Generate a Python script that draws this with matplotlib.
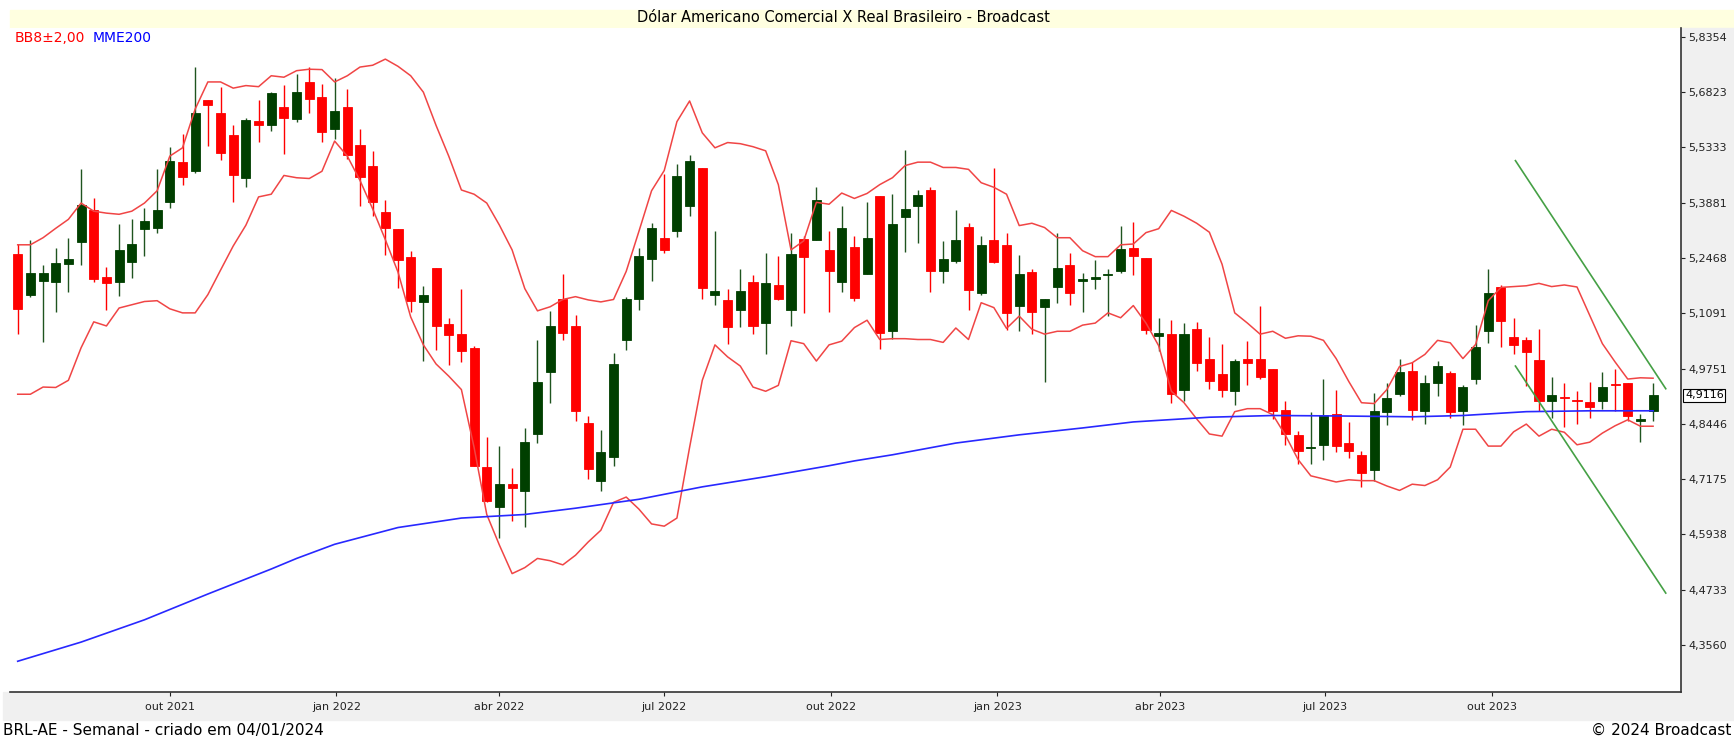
import pandas as pd
import matplotlib
matplotlib.use("Agg")
import matplotlib.pyplot as plt
import matplotlib.dates as mdates
import matplotlib.transforms as mtransforms
from matplotlib.patches import Rectangle
from matplotlib.ticker import FixedLocator, NullLocator

# weekly candles BRL-AE (one per week)
weeks = pd.date_range("2021-07-09", periods=130, freq="7D")

opens = [5.257, 5.153, 5.190, 5.187, 5.232, 5.288, 5.368, 5.199, 5.187, 5.236,
         5.319, 5.322, 5.389, 5.494, 5.470, 5.660, 5.625, 5.565, 5.451, 5.603,
         5.594, 5.641, 5.608, 5.710, 5.669, 5.582, 5.641, 5.539, 5.483, 5.364,
         5.319, 5.250, 5.138, 5.221, 5.083, 5.058, 5.024, 4.744, 4.654, 4.707,
         4.690, 4.822, 4.966, 5.143, 5.077, 4.846, 4.714, 4.767, 5.043, 5.143,
         5.245, 5.298, 5.316, 5.379, 5.478, 5.153, 5.142, 5.118, 5.186, 5.084,
         5.180, 5.118, 5.296, 5.293, 5.266, 5.187, 5.275, 5.207, 5.405, 5.065,
         5.350, 5.379, 5.421, 5.214, 5.239, 5.325, 5.158, 5.292, 5.280, 5.128,
         5.212, 5.124, 5.173, 5.228, 5.188, 5.194, 5.203, 5.213, 5.272, 5.247,
         5.054, 5.058, 4.925, 5.070, 4.998, 4.962, 4.922, 4.998, 4.998, 4.974,
         4.878, 4.819, 4.788, 4.796, 4.868, 4.800, 4.773, 4.739, 4.873, 4.915,
         4.969, 4.874, 4.940, 4.965, 4.874, 4.950, 5.066, 5.174, 5.051, 5.045,
         4.996, 4.897, 4.907, 4.901, 4.896, 4.897, 4.938, 4.940, 4.852, 4.874]

highs = [5.283, 5.291, 5.228, 5.272, 5.298, 5.475, 5.400, 5.224, 5.332, 5.345,
         5.374, 5.475, 5.535, 5.570, 5.751, 5.661, 5.697, 5.594, 5.611, 5.661,
         5.682, 5.701, 5.732, 5.752, 5.704, 5.721, 5.691, 5.581, 5.523, 5.394,
         5.320, 5.264, 5.177, 5.221, 5.098, 5.168, 5.030, 4.815, 4.794, 4.742,
         4.836, 5.043, 5.114, 5.206, 5.105, 4.864, 4.831, 5.012, 5.150, 5.272,
         5.335, 5.462, 5.488, 5.513, 5.478, 5.316, 5.168, 5.219, 5.203, 5.259,
         5.252, 5.309, 5.303, 5.428, 5.314, 5.379, 5.303, 5.390, 5.405, 5.411,
         5.526, 5.421, 5.428, 5.290, 5.368, 5.335, 5.302, 5.478, 5.309, 5.254,
         5.219, 5.145, 5.309, 5.259, 5.209, 5.242, 5.219, 5.327, 5.339, 5.247,
         5.098, 5.092, 5.086, 5.087, 5.050, 5.035, 4.998, 5.042, 5.127, 4.974,
         4.899, 4.828, 4.872, 4.950, 4.923, 4.848, 4.781, 4.917, 4.940, 4.999,
         4.991, 4.960, 4.994, 4.970, 4.935, 5.080, 5.219, 5.180, 5.098, 5.050,
         5.070, 4.954, 4.940, 4.921, 4.944, 4.966, 4.975, 4.940, 4.868, 4.940]

lows = [5.058, 5.150, 5.040, 5.112, 5.162, 5.229, 5.187, 5.118, 5.152, 5.197,
        5.252, 5.311, 5.374, 5.433, 5.466, 5.536, 5.501, 5.389, 5.428, 5.548,
        5.578, 5.516, 5.601, 5.625, 5.547, 5.556, 5.502, 5.379, 5.354, 5.254,
        5.172, 5.112, 4.993, 5.019, 4.984, 4.991, 4.748, 4.665, 4.586, 4.624,
        4.610, 4.801, 4.893, 5.045, 4.851, 4.717, 4.690, 4.748, 5.019, 5.118,
        5.188, 5.260, 5.300, 5.353, 5.143, 5.130, 5.035, 5.075, 5.058, 5.010,
        5.142, 5.078, 5.110, 5.293, 5.112, 5.162, 5.140, 5.207, 5.021, 5.047,
        5.262, 5.285, 5.162, 5.183, 5.233, 5.118, 5.155, 5.234, 5.068, 5.065,
        5.058, 4.942, 5.134, 5.130, 5.112, 5.168, 5.103, 5.209, 5.204, 5.058,
        5.016, 4.894, 4.899, 4.970, 4.927, 4.907, 4.888, 4.937, 4.950, 4.856,
        4.795, 4.753, 4.753, 4.762, 4.779, 4.765, 4.699, 4.714, 4.842, 4.911,
        4.853, 4.844, 4.909, 4.858, 4.841, 4.939, 5.037, 5.028, 5.009, 4.933,
        4.875, 4.858, 4.837, 4.844, 4.858, 4.880, 4.875, 4.851, 4.802, 4.851]

closes = [5.120, 5.208, 5.208, 5.235, 5.244, 5.382, 5.194, 5.184, 5.266, 5.283,
          5.342, 5.368, 5.497, 5.455, 5.625, 5.647, 5.519, 5.459, 5.607, 5.594,
          5.680, 5.611, 5.683, 5.663, 5.574, 5.631, 5.513, 5.455, 5.389, 5.323,
          5.242, 5.140, 5.154, 5.077, 5.056, 5.016, 4.748, 4.668, 4.707, 4.697,
          4.803, 4.944, 5.077, 5.060, 4.875, 4.741, 4.780, 4.986, 5.143, 5.251,
          5.322, 5.267, 5.458, 5.498, 5.172, 5.163, 5.075, 5.164, 5.077, 5.183,
          5.145, 5.257, 5.249, 5.394, 5.214, 5.322, 5.146, 5.298, 5.062, 5.332,
          5.372, 5.407, 5.213, 5.244, 5.292, 5.166, 5.280, 5.236, 5.109, 5.206,
          5.112, 5.145, 5.221, 5.160, 5.194, 5.199, 5.207, 5.270, 5.252, 5.068,
          5.060, 4.915, 5.058, 4.988, 4.945, 4.923, 4.993, 4.988, 4.954, 4.875,
          4.821, 4.782, 4.792, 4.866, 4.794, 4.782, 4.732, 4.875, 4.904, 4.966,
          4.877, 4.940, 4.981, 4.873, 4.932, 5.026, 5.160, 5.091, 5.032, 5.015,
          4.897, 4.913, 4.904, 4.899, 4.883, 4.930, 4.935, 4.864, 4.855, 4.9116]

# bollinger bands (8 weeks, 2 std)
bb_upper = [5.280, 5.280, 5.298, 5.322, 5.345, 5.387, 5.366, 5.361, 5.358, 5.366,
            5.387, 5.419, 5.510, 5.532, 5.636, 5.710, 5.710, 5.693, 5.700, 5.697,
            5.727, 5.723, 5.741, 5.745, 5.744, 5.710, 5.727, 5.751, 5.756, 5.773,
            5.753, 5.727, 5.682, 5.592, 5.510, 5.421, 5.410, 5.387, 5.330, 5.267,
            5.170, 5.115, 5.125, 5.143, 5.150, 5.142, 5.137, 5.143, 5.213, 5.314,
            5.419, 5.472, 5.602, 5.658, 5.572, 5.532, 5.546, 5.543, 5.535, 5.524,
            5.435, 5.267, 5.290, 5.389, 5.384, 5.413, 5.399, 5.412, 5.435, 5.453,
            5.485, 5.494, 5.494, 5.480, 5.480, 5.475, 5.440, 5.428, 5.410, 5.329,
            5.335, 5.324, 5.298, 5.298, 5.265, 5.250, 5.250, 5.280, 5.282, 5.311,
            5.321, 5.368, 5.353, 5.335, 5.312, 5.231, 5.110, 5.085, 5.058, 5.065,
            5.048, 5.054, 5.053, 5.043, 4.999, 4.944, 4.894, 4.892, 4.925, 4.980,
            4.989, 5.009, 5.043, 5.037, 4.999, 5.033, 5.140, 5.173, 5.175, 5.177,
            5.183, 5.175, 5.179, 5.174, 5.104, 5.035, 4.991, 4.950, 4.953, 4.952]

bb_lower = [4.914, 4.914, 4.931, 4.930, 4.947, 5.025, 5.088, 5.078, 5.122, 5.130,
            5.138, 5.140, 5.120, 5.110, 5.110, 5.155, 5.216, 5.277, 5.330, 5.403,
            5.410, 5.459, 5.453, 5.451, 5.470, 5.550, 5.510, 5.446, 5.372, 5.293,
            5.211, 5.100, 5.032, 4.986, 4.957, 4.925, 4.790, 4.638, 4.570, 4.508,
            4.521, 4.541, 4.536, 4.527, 4.548, 4.577, 4.603, 4.665, 4.677, 4.650,
            4.617, 4.612, 4.630, 4.790, 4.947, 5.032, 5.003, 4.981, 4.931, 4.921,
            4.935, 5.042, 5.035, 4.993, 5.032, 5.041, 5.074, 5.092, 5.045, 5.047,
            5.047, 5.045, 5.045, 5.038, 5.073, 5.045, 5.135, 5.123, 5.072, 5.102,
            5.070, 5.058, 5.065, 5.065, 5.080, 5.085, 5.110, 5.098, 5.128, 5.085,
            5.030, 4.921, 4.894, 4.856, 4.821, 4.816, 4.873, 4.880, 4.880, 4.866,
            4.818, 4.762, 4.725, 4.718, 4.711, 4.716, 4.714, 4.714, 4.702, 4.692,
            4.706, 4.703, 4.716, 4.745, 4.832, 4.832, 4.793, 4.793, 4.826, 4.844,
            4.816, 4.832, 4.825, 4.796, 4.802, 4.823, 4.840, 4.854, 4.839, 4.839]

# MME200 read at some candles (candle number, value)
mme_idx = [1, 6, 11, 16, 21, 23, 26, 31, 36, 41, 45, 50, 55, 60, 65, 67, 70, 75,
           80, 85, 89, 95, 100, 105, 111, 115, 120, 125, 130]
mme_vals = [4.322, 4.362, 4.409, 4.464, 4.518, 4.541, 4.572, 4.609, 4.630, 4.638,
            4.652, 4.672, 4.700, 4.723, 4.748, 4.759, 4.773, 4.800, 4.819, 4.835,
            4.849, 4.860, 4.864, 4.863, 4.861, 4.864, 4.873, 4.875, 4.875]

# drawn trend lines (start date, end date, start value, end value)
trend_dates = ["2023-10-14", "2024-01-05"]
trend_upper = [5.498, 4.927]
trend_lower = [4.981, 4.466]

y_ticks = [5.8354, 5.6823, 5.5333, 5.3881, 5.2468, 5.1091, 4.9751, 4.8446,
           4.7175, 4.5938, 4.4733, 4.3560]
x_tick_dates = ["2021-10-01", "2022-01-01", "2022-04-01", "2022-07-01", "2022-10-01",
                "2023-01-01", "2023-04-01", "2023-07-01", "2023-10-01"]
x_tick_labels = ["out 2021", "jan 2022", "abr 2022", "jul 2022", "out 2022",
                 "jan 2023", "abr 2023", "jul 2023", "out 2023"]
last_price = 4.9116

W, H = 1734, 738
fig = plt.figure(figsize=(W / 100, H / 100), dpi=100)
fig.patch.set_facecolor("white")

# background bands of the chart frame
fig.patches.append(Rectangle((10 / W, 1 - 28 / H), (W - 10) / W, 18 / H,
                             transform=fig.transFigure, color="#FFFFE0", zorder=-10))
fig.patches.append(Rectangle((1681 / W, 1 - 720 / H), 53 / W, 692 / H,
                             transform=fig.transFigure, color="#F0F0F0", zorder=-10))
fig.patches.append(Rectangle((3 / W, 1 - 720 / H), 1678 / W, 28 / H,
                             transform=fig.transFigure, color="#F0F0F0", zorder=-10))

ax = fig.add_axes([10 / W, 46 / H, 1671 / W, 664 / H])

x = mdates.date2num(weeks.to_pydatetime())
body_w = 5.0

# wicks then bodies
for i in range(len(x)):
    up = closes[i] >= opens[i]
    wick_c = "#1f541f" if up else "#ff0000"
    body_c = "#003f00" if up else "#ff0000"
    ax.vlines(x[i], lows[i], highs[i], color=wick_c, lw=1.0, zorder=2)
    lo = min(opens[i], closes[i])
    hi = max(opens[i], closes[i])
    ax.bar(x[i], hi - lo, bottom=lo, width=body_w, color=body_c,
           edgecolor=body_c, linewidth=0.6, zorder=3)

ax.plot(x, bb_upper, color="#f04545", lw=1.1, zorder=4)
ax.plot(x, bb_lower, color="#f04545", lw=1.1, zorder=4)
ax.plot([x[i - 1] for i in mme_idx], mme_vals, color="#2828ff", lw=1.2, zorder=4)

tx = mdates.date2num(pd.to_datetime(trend_dates).to_pydatetime())
ax.plot(tx, trend_upper, color="#45a045", lw=1.2, zorder=5)
ax.plot(tx, trend_lower, color="#45a045", lw=1.2, zorder=5)

ax.set_yscale("log")
ax.set_ylim(4.2586, 5.860)
ax.set_xlim(mdates.date2num(pd.Timestamp("2021-07-04 18:00")),
            mdates.date2num(pd.Timestamp("2024-01-13 10:00")))

ax.yaxis.set_major_locator(FixedLocator(y_ticks))
ax.yaxis.set_minor_locator(NullLocator())
ax.set_yticklabels([f"{v:.4f}".replace(".", ",") for v in y_ticks])
ax.yaxis.tick_right()
ax.tick_params(axis="y", which="major", direction="out", length=3, width=0.8,
               pad=2, labelsize=8, colors="#222222")

ax.set_xticks(mdates.date2num(pd.to_datetime(x_tick_dates).to_pydatetime()))
ax.set_xticklabels(x_tick_labels)
ax.tick_params(axis="x", direction="out", length=3, width=0.8, pad=4,
               labelsize=8, colors="#222222")

for s in ["top", "left"]:
    ax.spines[s].set_visible(False)
for s in ["right", "bottom"]:
    ax.spines[s].set_color("#333333")
    ax.spines[s].set_linewidth(1.2)

# current price box
tr = mtransforms.blended_transform_factory(ax.transAxes, ax.transData)
ax.text(1.0 + 4 / 1671, last_price, f"{last_price:.4f}".replace(".", ","),
        transform=tr, ha="left", va="center", fontsize=8, color="black",
        bbox=dict(boxstyle="square,pad=0.15", fc="white", ec="black", lw=0.8),
        zorder=10, clip_on=False)

# texts
fig.text(843 / W, 1 - 18 / H, "Dólar Americano Comercial X Real Brasileiro - Broadcast",
         ha="center", va="center", fontsize=10.5, color="black")
fig.text(15 / W, 1 - 38 / H, "BB8±2,00", ha="left", va="center", fontsize=10, color="#ff0000")
fig.text(93 / W, 1 - 38 / H, "MME200", ha="left", va="center", fontsize=10, color="#0000ff")
fig.text(3 / W, 1 - 730 / H, "BRL-AE - Semanal - criado em 04/01/2024",
         ha="left", va="center", fontsize=11, color="black")
fig.text(1731 / W, 1 - 730 / H, "© 2024 Broadcast",
         ha="right", va="center", fontsize=11, color="black")

fig.savefig("out.png", dpi=100)
